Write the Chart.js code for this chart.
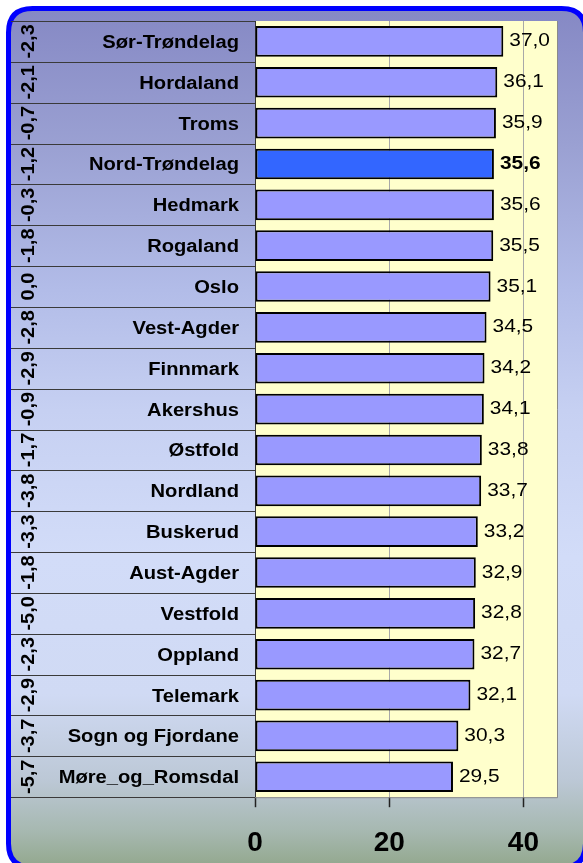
<!DOCTYPE html>
<html><head><meta charset="utf-8">
<script src="https://cdn.jsdelivr.net/npm/chart.js@4.4.0/dist/chart.umd.min.js"></script>
<style>html,body{margin:0;padding:0;background:#fff;overflow:hidden}</style>
</head><body>
<canvas id="c" width="583" height="863" style="display:block;width:583px;height:863px"></canvas>
<script>
const categories = ['Sør-Trøndelag','Hordaland','Troms','Nord-Trøndelag','Hedmark','Rogaland','Oslo','Vest-Agder','Finnmark','Akershus','Østfold','Nordland','Buskerud','Aust-Agder','Vestfold','Oppland','Telemark','Sogn og Fjordane','Møre_og_Romsdal'];
const values = [37.0,36.1,35.9,35.6,35.6,35.5,35.1,34.5,34.2,34.1,33.8,33.7,33.2,32.9,32.8,32.7,32.1,30.3,29.5];
const changes = ['-2,3','-2,1','-0,7','-1,2','-0,3','-1,8','0,0','-2,8','-2,9','-0,9','-1,7','-3,8','-3,3','-1,8','-5,0','-2,3','-2,9','-3,7','-5,7'];
const highlighted = 'Nord-Trøndelag';
const xTickValues = [0, 20, 40];
const xMax = 45;

const FONT = "'Liberation Sans', Arial, sans-serif";
const fmt = v => v.toFixed(1).replace('.', ',');

function stretchText(ctx, text, x, y, sx, align) {
  ctx.save();
  ctx.translate(x, y);
  ctx.scale(sx, 1);
  ctx.textAlign = align;
  ctx.textBaseline = 'alphabetic';
  ctx.fillText(text, 0, 0);
  ctx.restore();
}

function roundRect(ctx, x, y, w, h, r) {
  ctx.beginPath();
  ctx.moveTo(x + r, y);
  ctx.lineTo(x + w - r, y);
  ctx.quadraticCurveTo(x + w, y, x + w, y + r);
  ctx.lineTo(x + w, y + h - r);
  ctx.quadraticCurveTo(x + w, y + h, x + w - r, y + h);
  ctx.lineTo(x + r, y + h);
  ctx.quadraticCurveTo(x, y + h, x, y + h - r);
  ctx.lineTo(x, y + r);
  ctx.quadraticCurveTo(x, y, x + r, y);
  ctx.closePath();
}

const decor = {
  id: 'decor',
  beforeDraw(chart) {
    const ctx = chart.ctx;
    const a = chart.chartArea;
    ctx.save();
    ctx.fillStyle = '#ffffff';
    ctx.fillRect(0, 0, chart.width, chart.height);
    const g = ctx.createLinearGradient(0, 6, 0, 866);
    g.addColorStop(0.00, '#8588C4');
    g.addColorStop(0.16, '#9AA0D2');
    g.addColorStop(0.33, '#B2BCE8');
    g.addColorStop(0.47, '#C6D0F2');
    g.addColorStop(0.64, '#D2DCF8');
    g.addColorStop(0.80, '#D0DAF4');
    g.addColorStop(0.90, '#BCC8D6');
    g.addColorStop(0.96, '#A6B8B0');
    g.addColorStop(1.00, '#93A88E');
    roundRect(ctx, 8.5, 8.5, 577, 859, 24);
    ctx.fillStyle = g;
    ctx.fill();
    ctx.lineWidth = 5;
    ctx.strokeStyle = '#0000FF';
    ctx.stroke();
    // plot area
    ctx.fillStyle = '#FFFFCC';
    ctx.fillRect(a.left, a.top, a.right - a.left, a.bottom - a.top);
    ctx.restore();
  },
  afterDatasetsDraw(chart) {
    const ctx = chart.ctx;
    const a = chart.chartArea;
    const yScale = chart.scales.y;
    const n = categories.length;
    const rowH = (a.bottom - a.top) / n;
    ctx.save();
    // plot border right & bottom
    ctx.strokeStyle = '#8A8A8A';
    ctx.lineWidth = 1;
    ctx.beginPath();
    ctx.moveTo(a.right + 0.5, a.top);
    ctx.lineTo(a.right + 0.5, a.bottom + 0.5);
    ctx.lineTo(a.left, a.bottom + 0.5);
    ctx.stroke();
    // table lines
    ctx.strokeStyle = '#3A3A3A';
    ctx.beginPath();
    for (let i = 0; i <= n; i++) {
      const y = Math.round(a.top + i * rowH) + 0.5;
      ctx.moveTo(11, y);
      ctx.lineTo(a.left, y);
    }
    ctx.stroke();
    ctx.fillStyle = '#000';
    const meta = chart.getDatasetMeta(0);
    categories.forEach((c, i) => {
      const cy = yScale.getPixelForValue(i);
      // category label
      ctx.font = 'bold 18px ' + FONT;
      stretchText(ctx, c, 239, cy + 6.5, 1.12, 'right');
      // rotated change value
      ctx.save();
      ctx.translate(34, cy);
      ctx.rotate(-Math.PI / 2);
      ctx.scale(1.05, 1);
      ctx.font = 'bold 19px ' + FONT;
      ctx.textAlign = 'center';
      ctx.textBaseline = 'alphabetic';
      ctx.fillText(changes[i], 0, 0);
      ctx.restore();
      // value label
      const bar = meta.data[i];
      const isH = c === highlighted;
      ctx.font = (isH ? 'bold ' : '') + '19px ' + FONT;
      stretchText(ctx, fmt(values[i]), bar.x + 6, cy + 5, 1.1, 'left');
    });
    ctx.restore();
  }
};

new Chart(document.getElementById('c'), {
  type: 'bar',
  data: {
    labels: categories,
    datasets: [{
      data: values,
      backgroundColor: categories.map(c => c === highlighted ? '#3366FF' : '#9999FF'),
      borderColor: '#000000',
      borderWidth: 2,
      borderSkipped: false,
      categoryPercentage: 1,
      barPercentage: 0.75
    }]
  },
  options: {
    indexAxis: 'y',
    responsive: false,
    animation: false,
    devicePixelRatio: 1,
    layout: { padding: { left: 255, right: 26, top: 21, bottom: -17 } },
    plugins: { legend: { display: false }, tooltip: { enabled: false } },
    scales: {
      y: { display: false },
      x: {
        min: 0, max: xMax,
        afterBuildTicks: s => { s.ticks = xTickValues.map(v => ({ value: v })); },
        border: { display: false },
        grid: {
          color: c => (c.tick && c.tick.value === 0) ? '#333333' : '#A8A8A8',
          lineWidth: 1,
          tickColor: '#222222',
          tickLength: 10,
          tickWidth: 1.5
        },
        ticks: {
          color: '#000',
          padding: 28,
          maxRotation: 0,
          font: { family: FONT, size: 28, weight: 'bold', lineHeight: 0.6 },
          callback: v => String(v)
        }
      }
    }
  },
  plugins: [decor]
});
</script>
</body></html>
